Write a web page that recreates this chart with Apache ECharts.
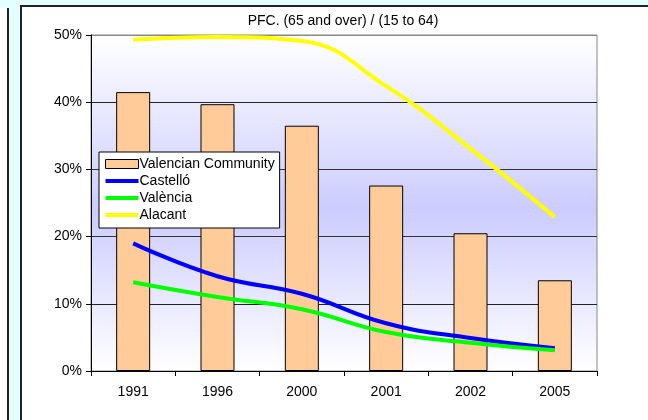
<!DOCTYPE html>
<html>
<head>
<meta charset="utf-8">
<script src="https://cdn.jsdelivr.net/npm/echarts@6/dist/echarts.min.js"></script>
<style>
  html, body { margin: 0; padding: 0; }
  body { width: 648px; height: 420px; background: #E4FFFF; position: relative; overflow: hidden; }
  .side { position: absolute; left: 0; top: 8px; width: 7px; height: 420px; background: #fff; border-right: 2px solid #222; }
  .panel { position: absolute; left: 20px; top: 5px; width: 640px; height: 430px; background: #fff; border-left: 2px solid #222; border-top: 2px solid #222; }
  #chart { position: absolute; left: 0; top: 0; width: 648px; height: 420px; }
</style>
</head>
<body>
<div class="side"></div>
<div class="panel"></div>
<div id="chart"></div>
<script>
// categories and values (percent)
const years = ['1991', '1996', '2000', '2001', '2002', '2005'];
const valencianCommunity = [41.5, 39.7, 36.5, 27.6, 20.5, 13.5];
const castello = [19.0, 14.1, 11.5, 7.1, 4.9, 3.4];
const valencia = [13.2, 11.0, 9.2, 5.8, 4.2, 3.1];
const alacant = [49.3, 49.7, 49.1, 42.4, 33.1, 22.9];
const yTicks = [0, 10, 20, 30, 40, 50];

const font = 'Liberation Sans, Arial, sans-serif';
// thin horizontal bar used as legend icon for the lines
const lineIcon = 'path://M0,0 L33,0 L33,4 L0,4 Z';

let myChart = echarts.init(document.getElementById('chart'));

let option = {
    animation: false,
    title: {
        text: 'PFC. (65 and over) / (15 to 64)',
        left: 338,
        textAlign: 'center',
        top: 9,
        textStyle: { fontFamily: font, fontSize: 14, fontWeight: 'normal', color: '#000' }
    },
    legend: {
        orient: 'vertical',
        left: 99,
        top: 152,
        padding: [5, 5, 6, 6],
        itemGap: 3,
        itemWidth: 33,
        itemHeight: 9,
        backgroundColor: '#fff',
        borderColor: '#000',
        borderWidth: 1,
        borderRadius: 0,
        textStyle: { fontFamily: font, fontSize: 14, color: '#000', padding: [0, 0, 0, -4] },
        data: [
            { name: 'Valencian Community', icon: 'rect', itemStyle: { borderWidth: 1, borderColor: '#000' } },
            { name: 'Castelló', icon: lineIcon },
            { name: 'València', icon: lineIcon },
            { name: 'Alacant', icon: lineIcon }
        ]
    },
    grid: {
        left: 91,
        right: 51,
        top: 35,
        bottom: 49,
        show: true,
        borderColor: '#888',
        borderWidth: 1,
        backgroundColor: {
            type: 'linear', x: 0, y: 0, x2: 0, y2: 1,
            colorStops: [
                { offset: 0, color: '#ffffff' },
                { offset: 0.52, color: '#ccccff' },
                { offset: 1, color: '#ffffff' }
            ]
        }
    },
    xAxis: {
        type: 'category',
        data: years,
        axisLine: { lineStyle: { color: '#000', width: 1 } },
        axisTick: { show: true, length: 5, lineStyle: { color: '#000' } },
        axisLabel: { fontFamily: font, fontSize: 14, color: '#000', margin: 14 }
    },
    yAxis: {
        type: 'value',
        min: yTicks[0],
        max: yTicks[yTicks.length - 1],
        interval: 10,
        axisLine: { show: true, lineStyle: { color: '#000', width: 1 } },
        axisTick: { show: true, length: 5, lineStyle: { color: '#000' } },
        axisLabel: { fontFamily: font, fontSize: 14, color: '#000', formatter: '{value}%', margin: 9 },
        splitLine: { show: true, lineStyle: { color: ['#000', '#222', '#333', '#333', '#222', '#888'], width: 1 } }
    },
    series: [
        {
            name: 'Valencian Community',
            type: 'bar',
            barWidth: 34,
            itemStyle: { color: '#FFCC99', borderColor: '#000', borderWidth: 1 },
            data: valencianCommunity
        },
        {
            name: 'Castelló',
            type: 'line',
            smooth: 0.45,
            symbol: 'none',
            itemStyle: { color: '#0000FF' },
            lineStyle: { color: '#0000FF', width: 4 },
            data: castello
        },
        {
            name: 'València',
            type: 'line',
            smooth: 0.45,
            symbol: 'none',
            itemStyle: { color: '#00FF00' },
            lineStyle: { color: '#00FF00', width: 4 },
            data: valencia
        },
        {
            name: 'Alacant',
            type: 'line',
            smooth: 0.45,
            symbol: 'none',
            itemStyle: { color: '#FFFF00' },
            lineStyle: { color: '#FFFF00', width: 4 },
            data: alacant
        }
    ]
};

myChart.setOption(option);
</script>
</body>
</html>
